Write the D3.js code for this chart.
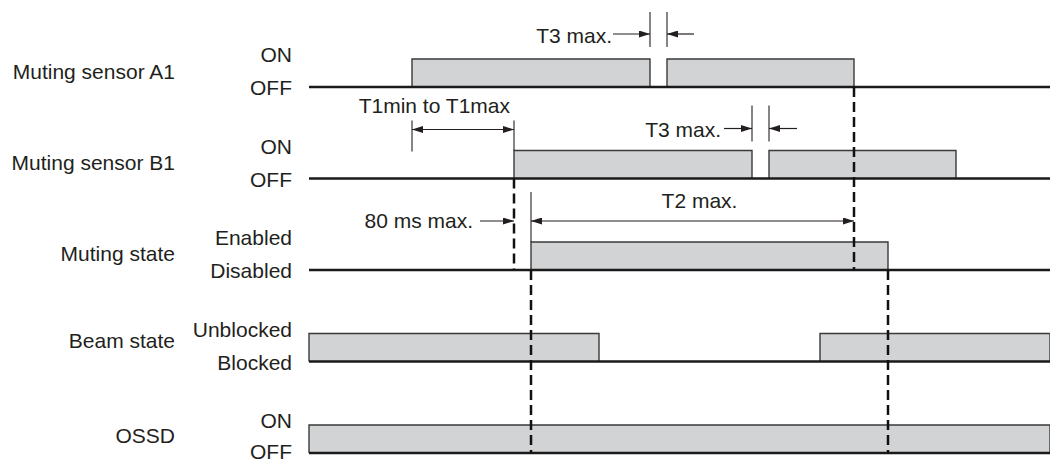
<!DOCTYPE html>
<html>
<head>
<meta charset="utf-8">
<script src="https://cdn.jsdelivr.net/npm/d3@7"></script>
<style>
  body { margin: 0; background: #fff; }
  svg text { font-family: "Liberation Sans", Arial, Helvetica, sans-serif; font-size: 21px; fill: #231f20; }
</style>
</head>
<body>
<script>
// signal rows, top to bottom
const rows = ["Muting sensor A1", "Muting sensor B1", "Muting state", "Beam state", "OSSD"];
const highLabels = ["ON", "ON", "Enabled", "Unblocked", "ON"];
const lowLabels = ["OFF", "OFF", "Disabled", "Blocked", "OFF"];

// high periods of each signal [start, end], in time units from the start of the trace
const pulsesA1 = [[103, 341], [358, 545]];
const pulsesB1 = [[205, 443], [460, 647]];
const pulsesMuting = [[222, 579]];
const pulsesBeam = [[0, 290], [511, 741]];
const pulsesOSSD = [[0, 741]];
const timeEnd = 741;

// dashed guide lines [time, from row, to row]
const guides = [[205, 1, 2], [222, 2, 4], [545, 0, 2], [579, 2, 4]];

// timing annotations
const t3GapA1 = [341, 358];
const t3GapB1 = [443, 460];
const t1Span = [103, 205];
const t2Span = [222, 545];
const delay80 = 205;

const pulses = [pulsesA1, pulsesB1, pulsesMuting, pulsesBeam, pulsesOSSD];

// layout
const W = 1050, H = 463;
const BAR_H = 28;
const ROW_LABEL_X = 175;
const STATE_LABEL_X = 292;
const rowLabelDy = [1, 0, 0, -5, -1];

const svg = d3.select("body").append("svg")
    .attr("width", W)
    .attr("height", H);

const x = d3.scaleLinear().domain([0, timeEnd]).range([309, 1050]);
const y = d3.scalePoint().domain(d3.range(rows.length)).range([87, 453]); // baseline of each row

// arrow head marker
svg.append("defs").append("marker")
    .attr("id", "head")
    .attr("markerUnits", "userSpaceOnUse")
    .attr("viewBox", "0 0 11 7")
    .attr("refX", 11).attr("refY", 3.5)
    .attr("markerWidth", 11).attr("markerHeight", 7)
    .attr("orient", "auto-start-reverse")
    .append("path")
    .attr("d", "M0,0 L11,3.5 L0,7 Z")
    .attr("fill", "#231f20");

// high periods: filled boxes, outlined on top and sides
rows.forEach((r, i) => {
    svg.append("g").selectAll("path")
        .data(pulses[i])
        .enter()
        .append("path")
        .attr("d", d => `M${x(d[0])},${y(i)} V${y(i) - BAR_H} H${x(d[1])} V${y(i)}`)
        .attr("fill", "#d1d3d4")
        .attr("stroke", "#3a3a3a")
        .attr("stroke-width", 1.4);
});

// baselines
svg.append("g").selectAll("line")
    .data(rows)
    .enter()
    .append("line")
    .attr("x1", x(0)).attr("x2", x(timeEnd))
    .attr("y1", (d, i) => y(i)).attr("y2", (d, i) => y(i))
    .attr("stroke", "#1a1a1a")
    .attr("stroke-width", 2.5);

// row labels
svg.append("g").selectAll("text")
    .data(rows)
    .enter()
    .append("text")
    .attr("x", ROW_LABEL_X)
    .attr("y", (d, i) => y(i) - 9 + rowLabelDy[i])
    .attr("text-anchor", "end")
    .text(d => d);

svg.append("g").selectAll("text")
    .data(highLabels)
    .enter()
    .append("text")
    .attr("x", STATE_LABEL_X)
    .attr("y", (d, i) => y(i) - BAR_H + 3)
    .attr("text-anchor", "end")
    .text(d => d);

svg.append("g").selectAll("text")
    .data(lowLabels)
    .enter()
    .append("text")
    .attr("x", STATE_LABEL_X)
    .attr("y", (d, i) => Math.min(y(i) + 8, H - 4))
    .attr("text-anchor", "end")
    .text(d => d);

// dashed guides
svg.append("g").selectAll("line")
    .data(guides)
    .enter()
    .append("line")
    .attr("x1", d => x(d[0])).attr("x2", d => x(d[0]))
    .attr("y1", d => y(d[1])).attr("y2", d => y(d[2]))
    .attr("stroke", "#111")
    .attr("stroke-width", 2.5)
    .attr("stroke-dasharray", "10,5");

// helpers for annotations
const ann = svg.append("g");
function tick(t, y1, y2) {
    ann.append("line")
        .attr("x1", x(t)).attr("x2", x(t))
        .attr("y1", y1).attr("y2", y2)
        .attr("stroke", "#231f20").attr("stroke-width", 1.1);
}
function arrow(x1, x2, yy, both) {
    let l = ann.append("line")
        .attr("x1", x1).attr("x2", x2)
        .attr("y1", yy).attr("y2", yy)
        .attr("stroke", "#231f20").attr("stroke-width", 1.2)
        .attr("marker-end", "url(#head)");
    if (both) l.attr("marker-start", "url(#head)");
}
function label(str, xx, yy, anchor) {
    ann.append("text")
        .attr("x", xx).attr("y", yy)
        .attr("text-anchor", anchor)
        .text(str);
}

// T3 max. on sensor A1
let top0 = y(0) - BAR_H;
tick(t3GapA1[0], top0 - 47, top0 - 12);
tick(t3GapA1[1], top0 - 47, top0 - 12);
arrow(x(t3GapA1[0]) - 37, x(t3GapA1[0]), top0 - 25);
arrow(x(t3GapA1[1]) + 27, x(t3GapA1[1]), top0 - 25);
label("T3 max.", x(t3GapA1[0]) - 38, top0 - 16, "end");

// T1min to T1max between A1 and B1 rising edges
let top1 = y(1) - BAR_H;
tick(t1Span[0], top1 - 30, top1 + 1);
tick(t1Span[1], top1 - 30, top1);
arrow(x(t1Span[0]), x(t1Span[1]), top1 - 21, true);
label("T1min to T1max", x(t1Span[1]) - 4, top1 - 38, "end");

// T3 max. on sensor B1
tick(t3GapB1[0], top1 - 45, top1 - 9);
tick(t3GapB1[1], top1 - 45, top1 - 9);
arrow(x(t3GapB1[0]) - 28, x(t3GapB1[0]), top1 - 22);
arrow(x(t3GapB1[1]) + 28, x(t3GapB1[1]), top1 - 22);
label("T3 max.", x(t3GapB1[0]) - 31, top1 - 14, "end");

// 80 ms max. and T2 max. on muting state
let top2 = y(2) - BAR_H;
tick(t2Span[0], top2 - 50, top2);
arrow(x(delay80) - 34, x(delay80), top2 - 21);
label("80 ms max.", x(delay80) - 41, top2 - 14, "end");
arrow(x(t2Span[0]), x(t2Span[1]), top2 - 21, true);
label("T2 max.", (x(t2Span[0]) + x(t2Span[1])) / 2 + 7, top2 - 34, "middle");
</script>
</body>
</html>
